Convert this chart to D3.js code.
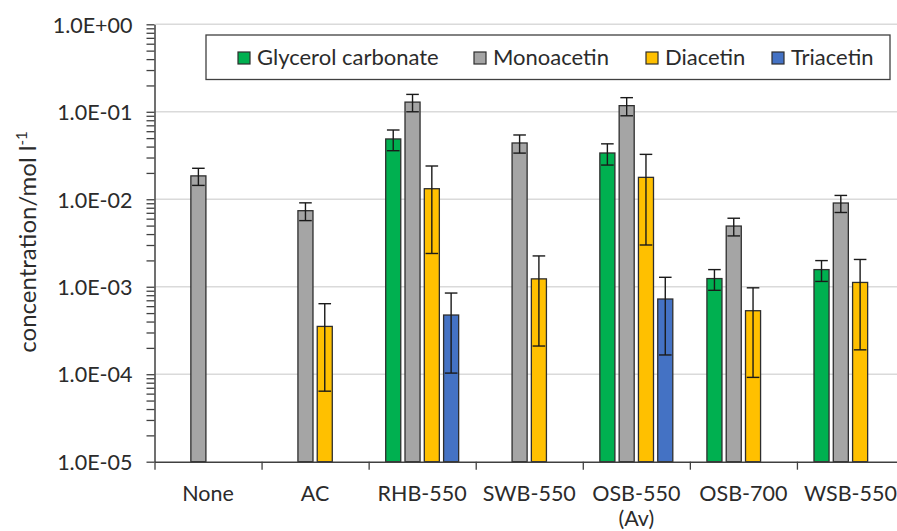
<!DOCTYPE html>
<html>
<head>
<meta charset="utf-8">
<script src="https://cdn.jsdelivr.net/npm/d3@7"></script>
<style>
  body { margin: 0; background: #fff; }
  svg { display: block; }
  text { font-family: Lato, "Open Sans", sans-serif; fill: #2b2b2b; }
</style>
</head>
<body>
<svg id="chart" width="897" height="531"></svg>
<script>
// Catalyst / condition categories (second line drawn below the first)
const categories = ["None", "AC", "RHB-550", "SWB-550", "OSB-550 (Av)", "OSB-700", "WSB-550"];
const categoryLines = [["None"], ["AC"], ["RHB-550"], ["SWB-550"], ["OSB-550", "(Av)"], ["OSB-700"], ["WSB-550"]];

const seriesNames = ["Glycerol carbonate", "Monoacetin", "Diacetin", "Triacetin"];
const seriesColors = ["#00B050", "#A5A5A5", "#FFC000", "#4472C4"];

// Mean concentrations (mol/l); null = not detected
const glycerolCarbonate = [null, null, 0.0489, null, 0.0338, 0.00124, 0.00157];
const monoacetin        = [0.0185, 0.0074, 0.129, 0.044, 0.1175, 0.00494, 0.00906];
const diacetin          = [null, 0.000352, 0.0132, 0.00123, 0.0178, 0.000532, 0.00112];
const triacetin         = [null, null, 0.000475, null, 0.000724, null, null];

// Standard deviations for the error bars
const glycerolCarbonateSd = [null, null, 0.013, null, 0.0092, 0.00033, 0.00042];
const monoacetinSd        = [0.0041, 0.0017, 0.029, 0.0103, 0.0275, 0.00113, 0.002];
const diacetinSd          = [null, 0.000288, 0.0108, 0.00102, 0.0148, 0.00044, 0.00093];
const triacetinSd         = [null, null, 0.000372, null, 0.000558, null, null];

// Log axis decades and their labels
const yTicks = [1e-5, 1e-4, 1e-3, 1e-2, 1e-1, 1];
const yTickLabels = ["1.0E-05", "1.0E-04", "1.0E-03", "1.0E-02", "1.0E-01", "1.0E+00"];

const seriesValues = [glycerolCarbonate, monoacetin, diacetin, triacetin];
const seriesSd = [glycerolCarbonateSd, monoacetinSd, diacetinSd, triacetinSd];

const svg = d3.select("#chart");
const plot = { left: 154.5, right: 904, top: 24.3, bottom: 461.7 };

const y = d3.scaleLog().domain([1e-5, 1]).range([plot.bottom, plot.top]);
const x0 = d3.scaleBand().domain(categories).range([plot.left, plot.right]).padding(0);
const bw0 = x0.bandwidth();
const x1 = d3.scaleBand().domain(seriesNames)
  .range([bw0 / 2 - 38.6, bw0 / 2 + 38.6])
  .paddingInner(0.22).paddingOuter(0.11);

// Horizontal grid at each decade
svg.append("g")
  .selectAll("line")
  .data(yTicks.filter(d => d > 1e-5))
  .join("line")
  .attr("x1", plot.left + 1).attr("x2", 897)
  .attr("y1", d => y(d)).attr("y2", d => y(d))
  .attr("stroke", "#dadada").attr("stroke-width", 1.5);

// Bars
const rows = [];
categories.forEach((c, i) => {
  seriesNames.forEach((s, j) => {
    const v = seriesValues[j][i];
    if (v != null) rows.push({ c, s, j, v, sd: seriesSd[j][i] });
  });
});

const barG = svg.append("g");
barG.selectAll("rect")
  .data(rows)
  .join("rect")
  .attr("x", d => x0(d.c) + x1(d.s))
  .attr("width", x1.bandwidth())
  .attr("y", d => y(d.v))
  .attr("height", d => y(1e-5) - y(d.v))
  .attr("fill", d => seriesColors[d.j])
  .attr("stroke", "#2e2e2e")
  .attr("stroke-width", 1.3);

// Error bars (mean ± sd)
const errG = svg.append("g").attr("stroke", "#1a1a1a").attr("stroke-width", 1.4);
const capHalf = 6.3;
rows.forEach(d => {
  const cx = x0(d.c) + x1(d.s) + x1.bandwidth() / 2;
  const hi = y(d.v + d.sd), lo = y(d.v - d.sd);
  errG.append("line").attr("x1", cx).attr("x2", cx).attr("y1", hi).attr("y2", lo);
  errG.append("line").attr("x1", cx - capHalf).attr("x2", cx + capHalf).attr("y1", hi).attr("y2", hi);
  errG.append("line").attr("x1", cx - capHalf).attr("x2", cx + capHalf).attr("y1", lo).attr("y2", lo);
});

// Y axis: minor log ticks
const minor = [];
for (let e = -5; e < 0; e++) for (let k = 2; k <= 9; k++) minor.push(k * Math.pow(10, e));
const yMinor = svg.append("g").attr("transform", `translate(${plot.left},0)`)
  .call(d3.axisLeft(y).tickValues(minor).tickFormat("").tickSize(8).tickSizeOuter(0));
yMinor.select(".domain").remove();
yMinor.selectAll("line").attr("stroke", "#404040").attr("stroke-width", 1.3);

// Y axis: decades with labels
const yAxis = svg.append("g").attr("transform", `translate(${plot.left},0)`)
  .call(d3.axisLeft(y).tickValues(yTicks)
    .tickFormat((d, i) => yTickLabels[i]).tickSize(8).tickSizeOuter(0).tickPadding(14));
yAxis.select(".domain").attr("stroke", "#404040").attr("stroke-width", 1.5);
yAxis.selectAll("line").attr("stroke", "#404040").attr("stroke-width", 1.3);
yAxis.selectAll("text").attr("font-size", 21.5).attr("font-family", "Lato").attr("fill", "#2b2b2b")
  .attr("dy", "0.36em");

// X axis: line plus ticks at category boundaries
const xb = d3.scaleLinear().domain([0, categories.length]).range([plot.left, plot.right]);
const xAxis = svg.append("g").attr("transform", `translate(0,${plot.bottom})`)
  .call(d3.axisBottom(xb).tickValues(d3.range(categories.length + 1)).tickFormat("").tickSize(8).tickSizeOuter(0));
xAxis.select(".domain").attr("stroke", "#404040").attr("stroke-width", 1.5);
xAxis.selectAll("line").attr("stroke", "#404040").attr("stroke-width", 1.3);

// Category labels
const labG = svg.append("g").attr("font-size", 21.5).attr("text-anchor", "middle");
categories.forEach((c, i) => {
  const t = labG.append("text").attr("x", x0(c) + bw0 / 2).attr("y", 501);
  categoryLines[i].forEach((line, k) => {
    t.append("tspan").attr("x", x0(c) + bw0 / 2).attr("dy", k === 0 ? 0 : 25).text(line);
  });
});

// Y axis title
const yTitle = svg.append("text")
  .attr("transform", "translate(35.5,242) rotate(-90)")
  .attr("text-anchor", "middle")
  .attr("font-size", 24);
yTitle.append("tspan").text("concentration/mol l");
yTitle.append("tspan").attr("font-size", 15).attr("dy", -9).text("-1");

// Legend
const legend = svg.append("g");
legend.append("rect")
  .attr("x", 206).attr("y", 35).attr("width", 684).attr("height", 44.5)
  .attr("fill", "#fff").attr("stroke", "#404040").attr("stroke-width", 1.3);
const legendX = [238, 474, 646, 772];
seriesNames.forEach((s, j) => {
  legend.append("rect")
    .attr("x", legendX[j]).attr("y", 52).attr("width", 12).attr("height", 12)
    .attr("fill", seriesColors[j]).attr("stroke", "#2e2e2e").attr("stroke-width", 1.2);
  legend.append("text")
    .attr("x", legendX[j] + 19).attr("y", 64.5)
    .attr("font-size", 22).text(s);
});
</script>
</body>
</html>
